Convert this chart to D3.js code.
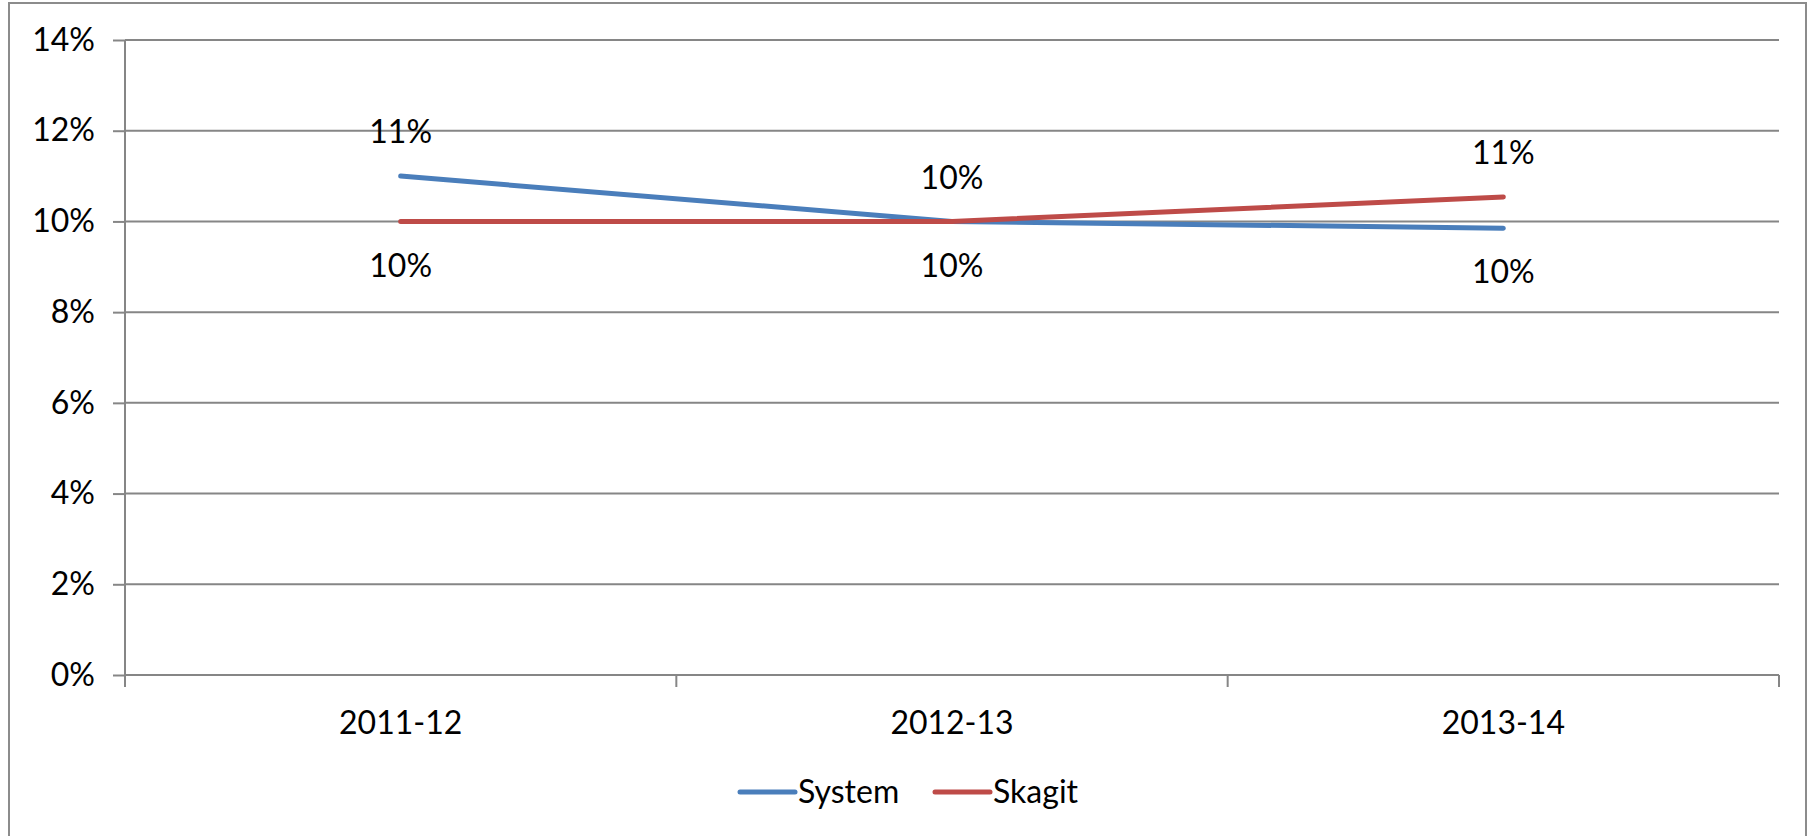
<!DOCTYPE html>
<html>
<head>
<meta charset="utf-8">
<script src="https://cdn.jsdelivr.net/npm/d3@7"></script>
<style>
  body { margin: 0; background: #fff; }
  text { font-family: Lato, "Open Sans", sans-serif; fill: #000; }
</style>
</head>
<body>
<div id="svg"></div>
<script>
var w = 1808;
var h = 836;
var border = { top: 40, bottom: 161, left: 125, right: 29 };

// data
var years = ['2011-12', '2012-13', '2013-14'];
var systemVals = [0.110, 0.100, 0.0985];
var skagitVals = [0.100, 0.100, 0.1054];
var yTicks = [0, 0.02, 0.04, 0.06, 0.08, 0.10, 0.12, 0.14];
var seriesNames = ['System', 'Skagit'];
var colors = ['#4a7ebb', '#be4b48'];

var series = [systemVals, skagitVals].map(function (vals, i) {
  return { name: seriesNames[i], color: colors[i], values: vals };
});

const svg = d3.select('#svg')
  .append('svg')
  .attr('width', w)
  .attr('height', h);

// chart outer frame
svg.append('rect')
  .attr('x', 9).attr('y', 3)
  .attr('width', 1797).attr('height', 900)
  .attr('fill', 'none')
  .attr('stroke', '#8c8c8c')
  .attr('stroke-width', 2);

var x = d3.scaleBand()
  .domain(years)
  .range([border.left, w - border.right]);

var y = d3.scaleLinear()
  .domain([0, 0.14])
  .range([h - border.bottom, border.top]);

var fmt = d3.format('.0%');

// gridlines
svg.append('g')
  .selectAll('line')
  .data(yTicks)
  .enter()
  .append('line')
  .attr('x1', border.left)
  .attr('x2', w - border.right)
  .attr('y1', d => y(d))
  .attr('y2', d => y(d))
  .attr('stroke', '#868686')
  .attr('stroke-width', 2);

// y axis
var yAxis = svg.append('g')
  .attr('transform', `translate(${border.left}, 0)`)
  .call(d3.axisLeft(y).tickValues(yTicks).tickFormat(fmt).tickSize(12).tickPadding(18));
yAxis.selectAll('line, path').attr('stroke', '#868686').attr('stroke-width', 2);
yAxis.select('.domain').attr('d', `M0,${y(0.14)}V${y(0)}`);
yAxis.selectAll('text').attr('font-size', 32).attr('font-family', 'Lato, sans-serif').attr('fill', '#000');

// x axis: ticks at category boundaries
var xAxis = svg.append('g')
  .attr('transform', `translate(0, ${y(0)})`);
var bounds = years.map(d => x(d)).concat([x.range()[1]]);
xAxis.selectAll('line')
  .data(bounds)
  .enter()
  .append('line')
  .attr('x1', d => d).attr('x2', d => d)
  .attr('y1', 0).attr('y2', 12)
  .attr('stroke', '#868686').attr('stroke-width', 2);
xAxis.selectAll('text')
  .data(years)
  .enter()
  .append('text')
  .attr('x', d => x(d) + x.bandwidth() / 2)
  .attr('y', 48)
  .attr('dy', '0.35em')
  .attr('text-anchor', 'middle')
  .attr('font-size', 32)
  .text(d => d);

// lines
var line = d3.line()
  .x((d, i) => x(years[i]) + x.bandwidth() / 2)
  .y(d => y(d));

svg.selectAll('.series')
  .data(series)
  .enter()
  .append('path')
  .attr('class', 'series')
  .attr('d', d => line(d.values))
  .attr('fill', 'none')
  .attr('stroke', d => d.color)
  .attr('stroke-width', 5)
  .attr('stroke-linecap', 'round')
  .attr('stroke-linejoin', 'round');

// data labels: higher value above, lower value below
years.forEach(function (yr, i) {
  var a = systemVals[i], b = skagitVals[i];
  var sysAbove = a >= b;
  [[a, sysAbove], [b, !sysAbove]].forEach(function (p) {
    svg.append('text')
      .attr('x', x(yr) + x.bandwidth() / 2)
      .attr('y', y(p[0]) + (p[1] ? -44 : 44))
      .attr('dy', '0.35em')
      .attr('text-anchor', 'middle')
      .attr('font-size', 32)
      .text(fmt(p[0]));
  });
});

// legend
var legend = svg.append('g')
  .attr('transform', 'translate(740, 792)');
var item = legend.selectAll('g')
  .data(series)
  .enter()
  .append('g')
  .attr('transform', (d, i) => `translate(${i * 195}, 0)`);
item.append('line')
  .attr('x1', 0).attr('x2', 55)
  .attr('stroke', d => d.color)
  .attr('stroke-width', 5)
  .attr('stroke-linecap', 'round');
item.append('text')
  .attr('x', 58)
  .attr('dy', '0.35em')
  .attr('font-size', 32)
  .text(d => d.name);
</script>
</body>
</html>
